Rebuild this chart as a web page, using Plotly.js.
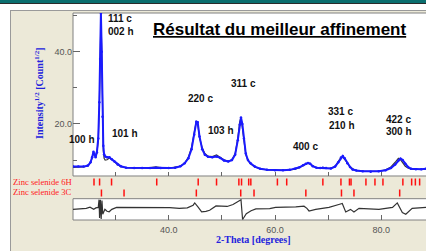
<!DOCTYPE html>
<html><head><meta charset="utf-8">
<script src="https://cdn.plot.ly/plotly-3.0.1.min.js"></script>
<style>
html,body{margin:0;padding:0;overflow:hidden;background:#fff;width:426px;height:251px;}
#top{position:absolute;left:0;top:0;width:426px;height:3px;background:#0B6F6F;}
#topline{position:absolute;left:0;top:3px;width:426px;height:1px;background:#2b2b2b;}
#panel{position:absolute;left:10px;top:10px;width:416px;height:241px;border-left:1px solid #9a9a9a;border-top:1px solid #9a9a9a;box-sizing:border-box;background:#ECE9D8;}
#chart{position:absolute;left:11px;top:11px;width:415px;height:240px;}
</style></head>
<body>
<div id="top"></div><div id="topline"></div><div id="panel"></div>
<div id="chart"></div>
<script>
// 2-Theta (degrees)
const twoTheta = [22.0,23.0,24.0,24.8,25.3,25.6,25.85,26.05,26.25,26.5,26.75,26.95,27.1,27.25,27.4,27.55,27.7,27.85,28.05,28.4,28.85,29.3,29.8,30.4,31.0,32.0,33.5,35.0,36.5,37.6,38.5,40.0,41.2,42.2,43.0,43.7,44.3,44.8,45.2,45.45,45.8,46.3,46.8,47.4,48.2,49.0,49.7,50.4,51.2,51.9,52.5,53.0,53.35,53.6,53.85,54.15,54.5,54.9,55.4,56.2,57.2,58.5,60.0,61.5,62.8,63.8,64.6,65.3,65.8,66.2,66.6,67.1,67.8,68.5,69.0,69.6,70.5,71.3,71.9,72.4,72.75,73.1,73.6,74.1,74.6,75.3,76.5,78.0,79.5,80.8,81.8,82.6,83.2,83.6,84.0,84.5,85.0,85.6,86.5,87.5,88.4];
// Intensity^1/2 observed
const observed = [8.2,8.2,8.2,8.5,9.4,10.8,12.3,11.6,10.8,12.2,16.0,26.0,38.0,50.6,40.0,22.0,14.0,11.6,11.0,10.8,10.8,10.2,9.6,8.8,8.3,7.9,7.8,7.8,7.8,7.9,7.8,7.8,7.9,8.3,9.1,10.5,13.0,17.0,20.6,20.5,16.5,13.0,11.5,10.9,10.8,11.0,10.6,9.9,9.6,10.0,11.5,15.5,19.8,21.8,20.0,16.0,11.8,10.0,9.1,8.2,7.6,7.3,7.2,7.2,7.3,7.6,8.0,8.6,9.0,9.2,9.0,8.3,7.9,7.8,7.9,7.8,7.7,8.2,9.4,10.7,11.1,10.5,9.1,8.1,7.4,7.1,6.9,6.8,6.9,7.2,7.8,8.8,9.9,10.4,10.0,9.0,8.1,7.6,7.5,7.5,7.6];
// Intensity^1/2 calculated
const calculated = [8.0,8.1,8.1,8.4,9.3,10.6,12.1,11.4,10.9,12.0,15.5,25.0,37.0,49.3,41.0,21.0,12.5,10.5,10.0,10.1,10.6,10.2,9.5,8.7,8.2,7.9,7.8,7.8,7.9,8.1,7.9,7.8,8.0,8.3,9.2,10.8,13.5,17.8,20.8,20.0,16.2,13.4,11.8,11.1,11.0,11.4,10.8,10.1,9.7,10.1,11.8,16.0,20.5,21.8,19.0,15.5,11.5,9.9,9.0,8.1,7.6,7.3,7.2,7.2,7.3,7.5,7.9,8.4,8.9,9.2,9.0,8.4,7.9,7.8,8.0,7.7,7.7,8.3,9.6,10.8,10.9,10.2,9.0,8.2,7.6,7.1,6.9,6.8,6.9,7.3,8.1,9.4,10.5,10.1,9.2,8.3,7.8,7.5,7.4,7.5,7.5];
// Difference curve
const diffTheta = [22.0,23.5,24.5,25.2,25.9,26.3,26.75,26.9,27.0,27.15,27.3,27.45,27.6,28.0,28.4,28.8,29.3,30.2,34.0,40.2,42.0,43.5,44.6,44.9,45.5,46.2,47.0,47.7,48.9,50.2,51.0,52.1,53.0,53.6,53.9,54.3,54.6,55.5,56.4,59.0,60.1,63.9,65.45,66.0,66.4,67.65,70.15,72.0,72.65,73.3,74.2,74.85,75.8,79.55,82.1,83.0,83.6,83.95,84.6,85.8,88.4];
const difference = [-1,-0.3,0,1.3,-1,0.5,1.0,9,-10,9,-11,8,-6,-1,-3,-3.5,-1,1,1,0.7,0,0.5,3.3,5.6,1.6,-3.5,-3.0,-2,2.5,2.3,2.0,4,7.3,9,-11.5,-7.7,-5.5,-2.5,-0.5,-0.3,1,1.6,2.3,0,-2.7,-1,1,4,5,-3.7,-1,-3.7,0,-1,1,5.7,0,-4.3,-6,0,1];
// Reflection positions
const refl6H = [25.95,27.0,29.25,37.75,45.55,49.0,53.2,53.7,55.05,55.45,60.45,62.2,69.0,72.4,74.0,74.3,77.1,78.8,80.3,84.05,85.7,86.4,87.2];
const refl3C = [27.35,31.6,45.2,53.55,56.05,65.8,72.5,74.85,83.45];
const phaseNames = ['Zinc selenide 6H','Zinc selenide 3C'];
const peakLabels = ['111 c','002 h','100 h','101 h','220 c','103 h','311 c','400 c','331 c','210 h','422 c','300 h'];
const labelPos = [[30.93,49.18],[31.12,45.59],[23.63,15.57],[31.78,17.43],[45.89,27.05],[49.84,18.26],[54.16,31.07],[65.77,13.64],[72.41,23.32],[72.51,19.59],[83.27,21.19],[83.32,17.79]];

const sans = 'Liberation Sans, Arial, sans-serif';
const serif = 'Liberation Serif, Times New Roman, serif';

const traces = [
  {x: twoTheta, y: calculated, xaxis:'x', yaxis:'y', mode:'lines', line:{color:'#3a3a3a', width:1.2}, hoverinfo:'skip'},
  {x: twoTheta, y: observed, xaxis:'x', yaxis:'y', mode:'lines+markers', line:{color:'#1a1aff', width:2}, marker:{color:'#1a1aff', size:2.5}, hoverinfo:'skip'},
  {x: refl6H, y: refl6H.map(()=>0.735), xaxis:'x', yaxis:'y3', mode:'markers', marker:{symbol:'line-ns', size:5, line:{color:'#ff1010', width:1.5}}, hoverinfo:'skip'},
  {x: refl3C, y: refl3C.map(()=>0.25), xaxis:'x', yaxis:'y3', mode:'markers', marker:{symbol:'line-ns', size:5, line:{color:'#ff1010', width:1.5}}, hoverinfo:'skip'},
  {x: diffTheta, y: difference, xaxis:'x2', yaxis:'y2', mode:'lines', line:{color:'#333', width:1.2}, hoverinfo:'skip'}
];

const ann = peakLabels.map((t,i)=>({text:'<b>'+t+'</b>', x:labelPos[i][0], y:labelPos[i][1], xref:'x', yref:'y', xanchor:'center', yanchor:'middle', showarrow:false, font:{family:sans, size:10, color:'#111'}}));
ann.push({text:'<b><u>Résultat du meilleur affinement</u></b>', xref:'paper', yref:'paper', x:0.585, y:0.921, xanchor:'center', yanchor:'middle', showarrow:false, font:{family:sans, size:17, color:'#000'}});
ann.push({text:'<b>2-Theta [degrees]</b>', xref:'paper', yref:'paper', x:0.5127, y:-0.0966, xanchor:'center', yanchor:'middle', showarrow:false, font:{family:serif, size:10, color:'#2222DD'}});
ann.push({text:'<b>Intensity<sup>1/2</sup> [Count<sup>1/2</sup>]</b>', xref:'paper', yref:'paper', x:-0.0963, y:0.6135, xanchor:'center', yanchor:'middle', textangle:-90, showarrow:false, font:{family:serif, size:10, color:'#2222DD'}});
ann.push({text:phaseNames[0], xref:'paper', yref:'paper', x:-0.1756, y:0.1836, xanchor:'left', yanchor:'middle', showarrow:false, font:{family:serif, size:8.6, color:'#ff1a1a'}});
ann.push({text:phaseNames[1], xref:'paper', yref:'paper', x:-0.1756, y:0.1329, xanchor:'left', yanchor:'middle', showarrow:false, font:{family:serif, size:8.6, color:'#ff1a1a'}});

const layout = {
  width:415, height:240, autosize:false,
  margin:{l:62, r:0, t:2, b:31, pad:0},
  paper_bgcolor:'rgba(0,0,0,0)', plot_bgcolor:'rgba(0,0,0,0)',
  showlegend:false,
  xaxis:{domain:[0,1], range:[22,88.4], anchor:'y', ticks:'inside', dtick:10, tick0:0, ticklen:4, tickcolor:'#666', showticklabels:false, showgrid:false, zeroline:false, showline:false},
  yaxis:{domain:[0.2126,1], range:[5.6,50.7], ticks:'inside', dtick:20, tick0:0, ticklen:7, tickcolor:'#666', tickformat:'.1f', tickfont:{family:sans, size:9, color:'#555'}, minor:{dtick:10, tick0:0, ticks:'inside', ticklen:4, tickcolor:'#666'}, showgrid:false, zeroline:false, showline:false},
  xaxis2:{domain:[0,1], range:[22,88.4], anchor:'y2', ticks:'inside', dtick:20, tick0:0, ticklen:5, tickcolor:'#666', tickformat:'.1f', ticklabelstandoff:3, tickfont:{family:sans, size:9, color:'#555'}, minor:{dtick:10, tick0:0, ticks:'inside', ticklen:5, tickcolor:'#666'}, showgrid:false, zeroline:false, showline:false},
  yaxis2:{domain:[0,0.1029], range:[-12,10], anchor:'x2', showticklabels:false, ticks:'', showgrid:false, zeroline:false, showline:false},
  yaxis3:{domain:[0.1029,0.2126], range:[0,1], anchor:'x', visible:false},
  shapes:[
    {type:'rect', xref:'x domain', yref:'y domain', x0:0, x1:1.02, y0:0, y1:1, fillcolor:'#fff', line:{color:'#808080', width:1}, layer:'below'},
    {type:'rect', xref:'x2 domain', yref:'y2 domain', x0:0, x1:1.02, y0:0, y1:1, fillcolor:'#fff', line:{color:'#808080', width:1}, layer:'below'}
  ],
  annotations: ann
};
Plotly.newPlot('chart', traces, layout, {staticPlot:true, displayModeBar:false});
</script>
</body></html>
